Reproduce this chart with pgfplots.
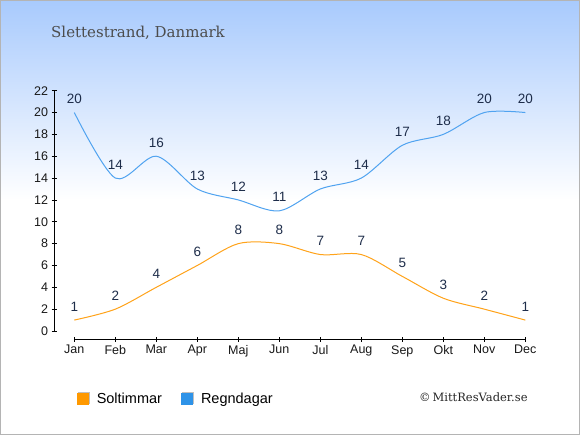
\documentclass[border=0pt]{standalone}
\usepackage{pgfplots}
\pgfplotsset{compat=1.18}
\usepackage{fontspec}
\setmainfont{Liberation Sans}
\newfontfamily\titlefont{DejaVu Serif}
\definecolor{bgtop}{RGB}{168,202,253}
\definecolor{sunc}{RGB}{255,163,26}
\definecolor{rainc}{RGB}{80,163,240}
\definecolor{sunleg}{RGB}{255,153,0}
\definecolor{rainleg}{RGB}{46,147,232}
\definecolor{lblc}{RGB}{30,45,74}
\begin{document}
\begin{tikzpicture}[x=1pt,y=1pt]
\path[use as bounding box] (0,0) rectangle (580,435);
\fill[white] (0,0) rectangle (580,435);
\shade[top color=bgtop, bottom color=white] (0,235) rectangle (580,435);
\draw[color={rgb,255:red,180;green,180;blue,180}, line width=1pt] (0.5,0.5) rectangle (579.5,434.5);
\node[anchor=base west, text=black!70, inner sep=0, font=\titlefont\fontsize{15}{16}\selectfont] at (51,397) {Slettestrand, Danmark};
\node[anchor=west, text=black!85, inner sep=0, font=\titlefont\fontsize{11.5}{12}\selectfont] at (419,38) {©\,MittResVader.se};
\begin{axis}[
  at={(74.3pt,104pt)}, anchor=south west,
  scale only axis, width=451pt, height=240.3pt,
  xmin=0, xmax=11, ymin=0, ymax=22,
  axis lines=left,
  axis x line shift=8.3pt, axis y line shift=20.3pt,
  axis line style={-, black, line width=0.8pt},
  xtick={0,...,11},
  xticklabels={Jan,Feb,Mar,Apr,Maj,Jun,Jul,Aug,Sep,Okt,Nov,Dec},
  ytick={0,2,...,22},
  tick align=center, major tick length=5pt,
  tick style={black, line width=0.8pt},
  /pgf/number format/assume math mode=true,
  ticklabel style={font=\fontsize{12.5}{13}\selectfont, text=black!90},
  clip=false,
  nodes near coords,
  every node near coord/.append style={anchor=center, yshift=13.5pt, text=lblc, font=\fontsize{13.5}{14}\selectfont},
  legend style={at={(axis description cs:0.005,-0.283)}, anchor=west, draw=none, fill=none,
    inner sep=0pt, font=\fontsize{14.5}{15}\selectfont, legend columns=2,
    /tikz/every odd column/.append style={column sep=5pt},
    /tikz/every even column/.append style={column sep=17pt}},
  legend cell align=left,
]
\addplot[sunc, line width=1pt, smooth, tension=0.5,
  legend image code/.code={\fill[black!25] (1pt,-4.5pt) rectangle (12pt,6.5pt); \fill[sunleg] (0pt,-5.5pt) rectangle (11pt,5.5pt);}]
  coordinates {(0,1) (1,2) (2,4) (3,6) (4,8) (5,8) (6,7) (7,7) (8,5) (9,3) (10,2) (11,1)};
\addlegendentry{Soltimmar}
\addplot[rainc, line width=1pt, smooth, tension=0.5,
  legend image code/.code={\fill[black!25] (1pt,-4.5pt) rectangle (12pt,6.5pt); \fill[rainleg] (0pt,-5.5pt) rectangle (11pt,5.5pt);}]
  coordinates {(0,20) (1,14) (2,16) (3,13) (4,12) (5,11) (6,13) (7,14) (8,17) (9,18) (10,20) (11,20)};
\addlegendentry{Regndagar}
\end{axis}
\end{tikzpicture}
\end{document}
